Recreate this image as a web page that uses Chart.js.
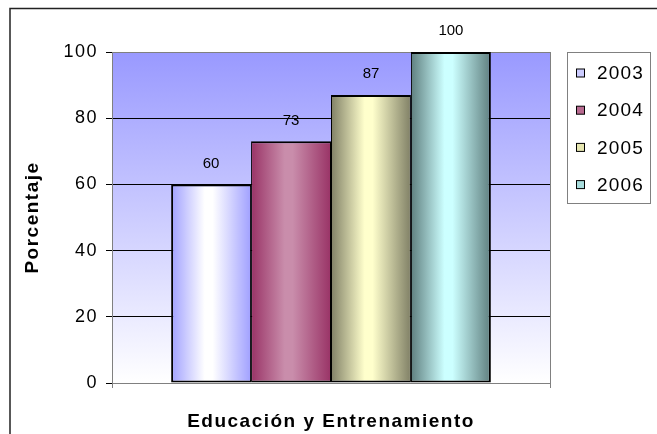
<!DOCTYPE html>
<html>
<head>
<meta charset="utf-8">
<script src="https://cdn.jsdelivr.net/npm/chart.js@4/dist/chart.umd.min.js"></script>
<style>
  html, body { margin: 0; padding: 0; background: #fff; }
  #wrap { width: 657px; height: 434px; }
</style>
</head>
<body>
<div id="wrap"><canvas id="chart" width="657" height="434"></canvas></div>
<script>
// ── Data ─────────────────────────────────────────────────────
const categories = ['Educación y Entrenamiento'];
const years = ['2003', '2004', '2005', '2006'];
const values = [60, 73, 87, 100];
const yTicks = [0, 20, 40, 60, 80, 100];

// ── Styles ───────────────────────────────────────────────────
const FONT = "'Liberation Sans', Arial, sans-serif";
const edgeColors = ['#A0A0FF', '#993366', '#808066', '#5F7F7F'];
const centerColors = ['#FFFFFF', '#C98DAB', '#FFFFCC', '#CCFFFF'];
const swatchColors = ['#CCCCFF', '#B86A90', '#E6E6B0', '#A8DCDC'];
const CAT_PCT = 0.73;

// Horizontal shading across each bar, worked out from the x scale
function barGradient(ctx) {
  const chart = ctx.chart;
  const xs = chart.scales.x;
  const i = ctx.datasetIndex;
  if (!xs || !chart.chartArea || ctx.type !== 'data') return edgeColors[i];
  const n = chart.data.datasets.length;
  const group = (xs.width / categories.length) * CAT_PCT;
  const w = group / n;
  const left = xs.getPixelForValue(ctx.dataIndex) - group / 2 + i * w;
  const g = chart.ctx.createLinearGradient(left, 0, left + w, 0);
  g.addColorStop(0, edgeColors[i]);
  g.addColorStop(0.42, centerColors[i]);
  g.addColorStop(0.52, centerColors[i]);
  g.addColorStop(1, edgeColors[i]);
  return g;
}

// Neighbouring bars share a thin edge; the outer sides stay heavier
function barBorder(ctx) {
  const last = ctx.chart.data.datasets.length - 1;
  return {
    top: 2,
    bottom: 2,
    left: ctx.datasetIndex === 0 ? 2 : 1,
    right: ctx.datasetIndex === last ? 2 : 1,
  };
}

// Outer frame, plot backdrop, value labels and boxed legend
const decorations = {
  id: 'decorations',
  beforeDraw(chart) {
    const { ctx, chartArea: a } = chart;
    ctx.save();
    ctx.fillStyle = '#fff';
    ctx.fillRect(0, 0, chart.width, chart.height);
    ctx.strokeStyle = '#222';
    ctx.lineWidth = 1.5;
    ctx.strokeRect(10, 8.5, chart.width + 20, chart.height + 20);
    const bg = ctx.createLinearGradient(0, a.top, 0, a.bottom);
    bg.addColorStop(0, '#9999FF');
    bg.addColorStop(1, '#FFFFFF');
    ctx.fillStyle = bg;
    ctx.fillRect(a.left, a.top, a.right - a.left, a.bottom - a.top);
    ctx.strokeStyle = '#808080';
    ctx.lineWidth = 1;
    ctx.strokeRect(a.left + 0.5, a.top + 0.5, a.right - a.left, a.bottom - a.top);
    ctx.restore();
    ctx.letterSpacing = '1.5px';
  },
  afterDatasetsDraw(chart) {
    const { ctx } = chart;
    ctx.save();
    ctx.letterSpacing = '0px';
    ctx.font = `15px ${FONT}`;
    ctx.fillStyle = '#000';
    ctx.textAlign = 'center';
    ctx.textBaseline = 'middle';
    chart.data.datasets.forEach((ds, i) => {
      chart.getDatasetMeta(i).data.forEach((bar, j) => {
        ctx.fillText(String(ds.data[j]), bar.x, bar.y - 21);
      });
    });
    ctx.restore();
  },
  afterDraw(chart) {
    const { ctx, chartArea: a } = chart;
    const boxLeft = a.right + 17.5;
    const boxTop = a.top + 0.5;
    ctx.save();
    ctx.strokeStyle = '#808080';
    ctx.lineWidth = 1;
    ctx.strokeRect(boxLeft, boxTop, 83, 151);
    ctx.font = `19px ${FONT}`;
    ctx.letterSpacing = '1.2px';
    ctx.textBaseline = 'middle';
    ctx.textAlign = 'left';
    years.forEach((yr, i) => {
      const cy = a.top + 21 + i * 37.2;
      ctx.fillStyle = swatchColors[i];
      ctx.fillRect(boxLeft + 9, cy - 4, 8, 8);
      ctx.strokeStyle = '#000';
      ctx.strokeRect(boxLeft + 9, cy - 4, 8, 8);
      ctx.fillStyle = '#000';
      ctx.fillText(yr, boxLeft + 29.5, cy + 1);
    });
    ctx.restore();
  },
};

new Chart(document.getElementById('chart'), {
  type: 'bar',
  data: {
    labels: categories,
    datasets: years.map((yr, i) => ({
      label: yr,
      data: [values[i]],
      backgroundColor: barGradient,
      borderColor: '#000',
      borderWidth: barBorder,
      borderSkipped: false,
      categoryPercentage: CAT_PCT,
      barPercentage: 1,
    })),
  },
  options: {
    responsive: false,
    animation: false,
    layout: { padding: { top: 52, right: 107, bottom: 0, left: 0 } },
    plugins: { legend: { display: false }, tooltip: { enabled: false } },
    scales: {
      x: {
        ticks: { display: false },
        grid: { drawOnChartArea: false, tickLength: 5, color: '#808080' },
        border: { color: '#808080' },
        title: {
          display: true,
          text: 'Educación y Entrenamiento',
          color: '#000',
          font: { family: FONT, size: 19, weight: 'bold' },
          padding: { top: 0, bottom: 1 },
        },
        afterFit(s) { s.height = 51; },
      },
      y: {
        min: 0,
        max: 100,
        afterBuildTicks(s) { s.ticks = yTicks.map(v => ({ value: v })); },
        ticks: { color: '#000', padding: 8, font: { family: FONT, size: 18 } },
        grid: {
          tickLength: 6,
          color: c => (c.tick && (c.tick.value === 0 || c.tick.value === 100)) ? '#808080' : '#000',
          tickColor: '#000',
        },
        border: { color: '#808080' },
        title: {
          display: true,
          text: 'Porcentaje',
          color: '#000',
          font: { family: FONT, size: 19, weight: 'bold' },
          padding: { top: 21, bottom: 0 },
        },
        afterFit(s) { s.width = 112; },
      },
    },
  },
  plugins: [decorations],
});
</script>
</body>
</html>
